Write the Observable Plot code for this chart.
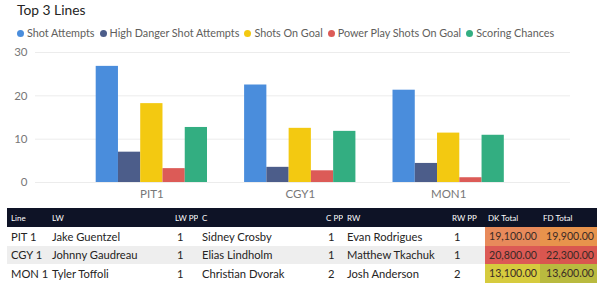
<!DOCTYPE html>
<html>
<head>
<meta charset="utf-8">
<script src="https://cdn.jsdelivr.net/npm/d3@7"></script>
<script src="https://cdn.jsdelivr.net/npm/@observablehq/plot@0.6"></script>
<style>
  html, body { margin: 0; padding: 0; background: #fff; }
  body { width: 600px; height: 285px; position: relative; overflow: hidden;
         font-family: Lato, "Noto Sans", sans-serif; color: #252423; }
  #title { position: absolute; left: 17px; top: 1px; font-size: 13.8px; line-height: 18px; color: #252423; }
  #legend { position: absolute; left: 17px; top: 25px; display: flex; font-size: 10.8px; line-height: 16px; color: #605e5c; white-space: nowrap; }
  #legend .item { display: flex; align-items: center; margin-right: 5px; }
  #legend .dot { width: 7px; height: 7px; border-radius: 50%; margin-right: 3px; }
  #chart { position: absolute; left: 0; top: 44px; }
  #tbl { position: absolute; left: 7px; top: 208px; border-collapse: collapse; table-layout: fixed; width: 590px; }
  #tbl th { background: #0e1326; color: #fff; font-weight: normal; font-size: 8px; height: 19px; text-align: left; padding: 0 0 0 4px; white-space: nowrap; overflow: hidden; }
  #tbl td { font-size: 11.2px; height: 18.5px; padding: 0 0 0 4px; color: #252423; white-space: nowrap; }
  #tbl tr.alt td { background: #eeeeee; }
  #tbl td.pp { padding-left: 6px; }
  #tbl td.num { text-align: right; padding: 0 3px 0 0; font-size: 10.6px; color: #3a2a26; }
  #tbl th.numh { padding-left: 3px; }
</style>
</head>
<body>
<div id="title">Top 3 Lines</div>
<div id="legend"></div>
<div id="chart"></div>
<table id="tbl"></table>
<script>
// ---- chart data ----
const lines = ["PIT1", "CGY1", "MON1"];
const series = ["Shot Attempts", "High Danger Shot Attempts", "Shots On Goal", "Power Play Shots On Goal", "Scoring Chances"];
const shotAttempts = [26.8, 22.5, 21.3];
const highDangerShotAttempts = [7.0, 3.5, 4.4];
const shotsOnGoal = [18.2, 12.5, 11.4];
const powerPlayShotsOnGoal = [3.2, 2.7, 1.1];
const scoringChances = [12.7, 11.8, 10.9];
const seriesColors = ["#4A8DDC", "#4C5D8A", "#F3C911", "#DC5B57", "#33AE81"];
const yTicks = [0, 10, 20, 30];

// ---- table data ----
const tableHeaders = ["Line", "LW", "LW PP", "C", "C PP", "RW", "RW PP", "DK Total", "FD Total"];
const tLine = ["PIT 1", "CGY 1", "MON 1"];
const tLW = ["Jake Guentzel", "Johnny Gaudreau", "Tyler Toffoli"];
const tLWPP = [1, 1, 1];
const tC = ["Sidney Crosby", "Elias Lindholm", "Christian Dvorak"];
const tCPP = [1, 1, 2];
const tRW = ["Evan Rodrigues", "Matthew Tkachuk", "Josh Anderson"];
const tRWPP = [1, 1, 2];
const tDK = [19100, 20800, 13100];
const tFD = [19900, 22300, 13600];

// ---- build chart ----
const valuesBySeries = [shotAttempts, highDangerShotAttempts, shotsOnGoal, powerPlayShotsOnGoal, scoringChances];
const barWidth = 0.15; // in group units
const data = [];
series.forEach((s, j) => {
  lines.forEach((l, i) => {
    data.push({ line: l, i, series: s, j, value: valuesBySeries[j][i] });
  });
});

const chart = Plot.plot({
  width: 600,
  height: 160,
  marginLeft: 35,
  marginRight: 30,
  marginTop: 8,
  marginBottom: 22,
  style: { fontFamily: "Lato, 'Noto Sans', sans-serif", fontSize: "11.5px", color: "#777" },
  x: { type: "linear", domain: [-0.784, 2.821], axis: null },
  y: { domain: [0, 30], axis: null },
  color: { domain: series, range: seriesColors },
  marks: [
    Plot.gridY(yTicks, { stroke: "#ececec", strokeOpacity: 1 }),
    Plot.axisY(yTicks, { tickSize: 0, tickPadding: 8, fill: "#777", label: null, fontSize: 11.5 }),
    Plot.rectY(data, {
      x1: d => d.i + (d.j - 2.5) * barWidth,
      x2: d => d.i + (d.j - 1.5) * barWidth,
      y: "value",
      fill: "series"
    }),
    Plot.axisX([0, 1, 2], { tickFormat: i => lines[i], tickSize: 0, tickPadding: 7, fill: "#777", label: null, fontSize: 11.5 })
  ]
});
document.getElementById("chart").appendChild(chart);

// ---- legend ----
const legend = document.getElementById("legend");
series.forEach((s, j) => {
  const item = document.createElement("div");
  item.className = "item";
  const dot = document.createElement("span");
  dot.className = "dot";
  dot.style.background = seriesColors[j];
  const txt = document.createElement("span");
  txt.textContent = s;
  item.appendChild(dot); item.appendChild(txt);
  legend.appendChild(item);
});

// ---- table ----
const colWidths = [41, 123, 27, 124, 21, 105, 37, 55, 57];
const tbl = document.getElementById("tbl");
const cg = document.createElement("colgroup");
colWidths.forEach(w => { const c = document.createElement("col"); c.style.width = w + "px"; cg.appendChild(c); });
tbl.appendChild(cg);
const htr = document.createElement("tr");
tableHeaders.forEach((h, k) => {
  const th = document.createElement("th");
  th.textContent = h;
  if (k >= 7) th.className = "numh";
  htr.appendChild(th);
});
tbl.appendChild(htr);

const fmt = d3.format(",.2f");
const dkColor = d3.scaleLinear().domain([d3.min(tDK), d3.min(tDK) + 0.78 * (d3.max(tDK) - d3.min(tDK)), d3.max(tDK)])
  .range(["#D6CB3E", "#E88A5B", "#DC5A55"]);
const fdColor = d3.scaleLinear().domain([d3.min(tFD), d3.min(tFD) + 0.72 * (d3.max(tFD) - d3.min(tFD)), d3.max(tFD)])
  .range(["#B9BA3F", "#E8944C", "#D9564F"]);

tLine.forEach((l, r) => {
  const tr = document.createElement("tr");
  if (r === 1) tr.className = "alt";
  const cells = [tLine[r], tLW[r], tLWPP[r], tC[r], tCPP[r], tRW[r], tRWPP[r]];
  cells.forEach((v, k) => {
    const td = document.createElement("td");
    td.textContent = v;
    if (k === 2 || k === 4 || k === 6) td.className = "pp";
    tr.appendChild(td);
  });
  const dk = document.createElement("td");
  dk.className = "num"; dk.textContent = fmt(tDK[r]); dk.style.background = dkColor(tDK[r]);
  const fd = document.createElement("td");
  fd.className = "num"; fd.textContent = fmt(tFD[r]); fd.style.background = fdColor(tFD[r]);
  tr.appendChild(dk); tr.appendChild(fd);
  tbl.appendChild(tr);
});
</script>
</body>
</html>
